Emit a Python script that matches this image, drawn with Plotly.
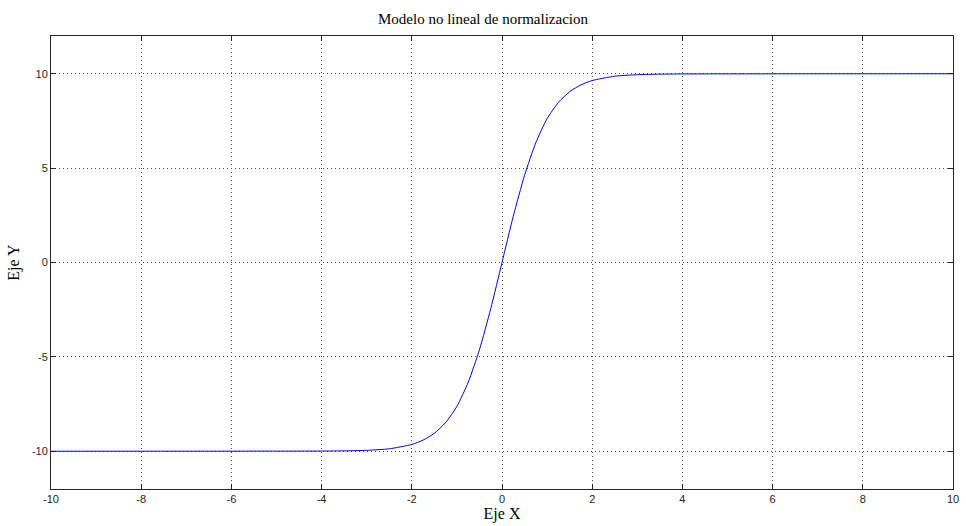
import plotly.graph_objects as go

# Sampled points of the normalisation curve
x_vals = [-10.0, -4.0, -3.5, -3.0, -2.5, -2.0, -1.75, -1.5, -1.25, -1.0, -0.75, -0.5, -0.25,
          0.0, 0.25, 0.5, 0.75, 1.0, 1.25, 1.5, 1.75, 2.0, 2.5, 3.0, 3.5, 4.0, 10.0]
y_vals = [-10.0, -9.99, -9.98, -9.95, -9.87, -9.64, -9.41, -9.05, -8.48, -7.62, -6.35, -4.62, -2.45,
          0.0, 2.45, 4.62, 6.35, 7.62, 8.48, 9.05, 9.41, 9.64, 9.87, 9.95, 9.98, 9.99, 10.0]

x_ticks = [-10, -8, -6, -4, -2, 0, 2, 4, 6, 8, 10]
x_tick_text = ["-10", "-8", "-6", "-4", "-2", "0", "2", "4", "6", "8", "10"]
y_ticks = [-10, -5, 0, 5, 10]
y_tick_text = ["-10", "-5", "0", "5", "10"]

serif = "Liberation Serif, Times New Roman, serif"

fig = go.Figure()
fig.add_trace(go.Scatter(
    x=x_vals, y=y_vals, mode="lines",
    line=dict(color="#0000ff", width=1, shape="spline", smoothing=0.6),
    hoverinfo="skip", showlegend=False,
))

axis_common = dict(
    showline=True, linecolor="#262626", linewidth=1, mirror="allticks",
    ticks="inside", ticklen=5, tickcolor="#262626",
    showgrid=True, gridcolor="#505050", gridwidth=1, griddash="1px,3px",
    zeroline=False,
    tickfont=dict(family="Liberation Sans, Arial, sans-serif", size=11, color="#262626"),
)

fig.update_layout(
    width=966, height=526,
    margin=dict(l=51, r=7, t=36, b=34),
    paper_bgcolor="white", plot_bgcolor="white",
    title=dict(text="Modelo no lineal de normalizacion", x=0.5, xanchor="center",
               y=1 - 19 / 526, yanchor="middle",
               font=dict(family=serif, size=15, color="black")),
    xaxis=dict(range=[-10, 10], tickvals=x_ticks, ticktext=x_tick_text,
               title=dict(text="Eje X", standoff=3,
                          font=dict(family=serif, size=16, color="black")),
               **axis_common),
    yaxis=dict(range=[-12, 12], tickvals=y_ticks, ticktext=y_tick_text,
               title=dict(text="Eje Y", standoff=8,
                          font=dict(family=serif, size=16, color="black")),
               **axis_common),
)

fig.write_html("out.html")
